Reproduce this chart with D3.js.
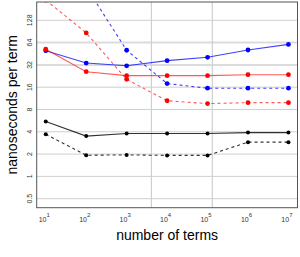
<!DOCTYPE html>
<html>
<head>
<meta charset="utf-8">
<script src="https://cdn.jsdelivr.net/npm/d3@7"></script>
<style>
  body { margin: 0; background: #fff; }
  svg { font-family: "Liberation Sans", Arial, sans-serif; }
</style>
</head>
<body>
<div id="chart"></div>
<script>
// number of terms
var terms = [1e1, 1e2, 1e3, 1e4, 1e5, 1e6, 1e7];

// ns per term
var blackSolid = [5.5, 3.5, 3.8, 3.8, 3.8, 3.9, 3.9];
var blackDash  = [3.7, 1.93, 1.95, 1.92, 1.92, 2.9, 2.9];
var blueSolid  = [49.8, 33.9, 31.1, 36.5, 40.5, 50.8, 60.5];
var blueDash   = [1000, 360, 50.4, 17.9, 15.5, 15.5, 15.5];
var redSolid   = [52, 25.9, 22.9, 22.9, 22.9, 23.6, 23.6];
var redDash    = [240, 86.5, 20.4, 10.5, 9.6, 9.9, 9.9];

var yTicks = [0.5, 1, 2, 4, 8, 16, 32, 64, 128];
var cacheLines = [4096, 131072]; // L1 / L2 sizes in doubles

var width = 300, height = 257;
var plot = { left: 36.7, right: 297.5, top: 2, bottom: 207.7 };

var x = d3.scaleLog().base(10)
  .domain([Math.pow(10, 0.776), Math.pow(10, 7.224)])
  .range([plot.left, plot.right]);
var y = d3.scaleLog().base(2)
  .domain([Math.pow(2, -1.404), Math.pow(2, 7.82)])
  .range([plot.bottom, plot.top]);

var svg = d3.select("#chart").append("svg")
  .attr("width", width)
  .attr("height", height);

svg.append("defs").append("clipPath").attr("id", "clip")
  .append("rect")
  .attr("x", plot.left).attr("y", plot.top)
  .attr("width", plot.right - plot.left)
  .attr("height", plot.bottom - plot.top);

// grid
svg.append("g").selectAll("line")
  .data(yTicks)
  .enter().append("line")
  .attr("x1", plot.left).attr("x2", plot.right)
  .attr("y1", function(d) { return y(d); })
  .attr("y2", function(d) { return y(d); })
  .attr("stroke", function(d) { return (d == 64 || d == 32) ? "#dcdcdc" : "#cfcfcf"; })
  .attr("stroke-width", function(d) { return (d == 64 || d == 32) ? 2 : 1; });

svg.append("g").selectAll("line")
  .data(cacheLines)
  .enter().append("line")
  .attr("x1", function(d) { return x(d); })
  .attr("x2", function(d) { return x(d); })
  .attr("y1", plot.top).attr("y2", plot.bottom)
  .attr("stroke", "#cfcfcf")
  .attr("stroke-width", 1.2);

// series
var series = [
  { vals: blackSolid, color: "#000", dash: null, op: 0.8 },
  { vals: blackDash,  color: "#000", dash: "3,3", op: 0.8 },
  { vals: blueSolid,  color: "#0000ff", dash: null, op: 0.75 },
  { vals: blueDash,   color: "#0000ff", dash: "3,3", op: 0.75 },
  { vals: redSolid,   color: "#ff0000", dash: null, op: 0.65 },
  { vals: redDash,    color: "#ff0000", dash: "3,3", op: 0.65 }
];

var line = d3.line()
  .x(function(d, i) { return x(terms[i]); })
  .y(function(d) { return y(d); });

var g = svg.append("g").attr("clip-path", "url(#clip)");

series.forEach(function(s) {
  g.append("path")
    .attr("d", line(s.vals))
    .attr("fill", "none")
    .attr("stroke", s.color)
    .attr("stroke-opacity", s.op)
    .attr("stroke-width", 1.1)
    .attr("stroke-dasharray", s.dash);
  g.selectAll(null)
    .data(s.vals)
    .enter().append("circle")
    .attr("cx", function(d, i) { return x(terms[i]); })
    .attr("cy", function(d) { return y(d); })
    .attr("r", s.color == "#000" ? 2 : 2.4)
    .attr("fill", s.color);
});

// box
svg.append("rect")
  .attr("x", plot.left).attr("y", plot.top)
  .attr("width", plot.right - plot.left)
  .attr("height", plot.bottom - plot.top)
  .attr("fill", "none")
  .attr("stroke", "#555")
  .attr("stroke-width", 1);

// y tick labels (rotated)
svg.append("g").selectAll("text")
  .data(yTicks)
  .enter().append("text")
  .attr("transform", function(d) { return "translate(32," + y(d) + ") rotate(-90)"; })
  .attr("text-anchor", "middle")
  .attr("font-size", 7)
  .attr("fill", "#333")
  .text(function(d) { return d; });

// x tick labels 10^k
var xl = svg.append("g").selectAll("text")
  .data(terms)
  .enter().append("text")
  .attr("x", function(d) { return x(d) - 1.5; })
  .attr("y", 222)
  .attr("text-anchor", "middle")
  .attr("font-size", 7)
  .attr("fill", "#333");
xl.append("tspan").text("10");
xl.append("tspan")
  .attr("dy", -5)
  .attr("font-size", 6)
  .text(function(d) { return Math.round(Math.log10(d)); });

// axis titles
svg.append("text")
  .attr("x", (plot.left + plot.right) / 2)
  .attr("y", 240)
  .attr("text-anchor", "middle")
  .attr("font-size", 14)
  .text("number of terms");

svg.append("text")
  .attr("transform", "translate(17," + (plot.top + plot.bottom) / 2 + ") rotate(-90)")
  .attr("text-anchor", "middle")
  .attr("font-size", 14)
  .text("nanoseconds per term");
</script>
</body>
</html>
